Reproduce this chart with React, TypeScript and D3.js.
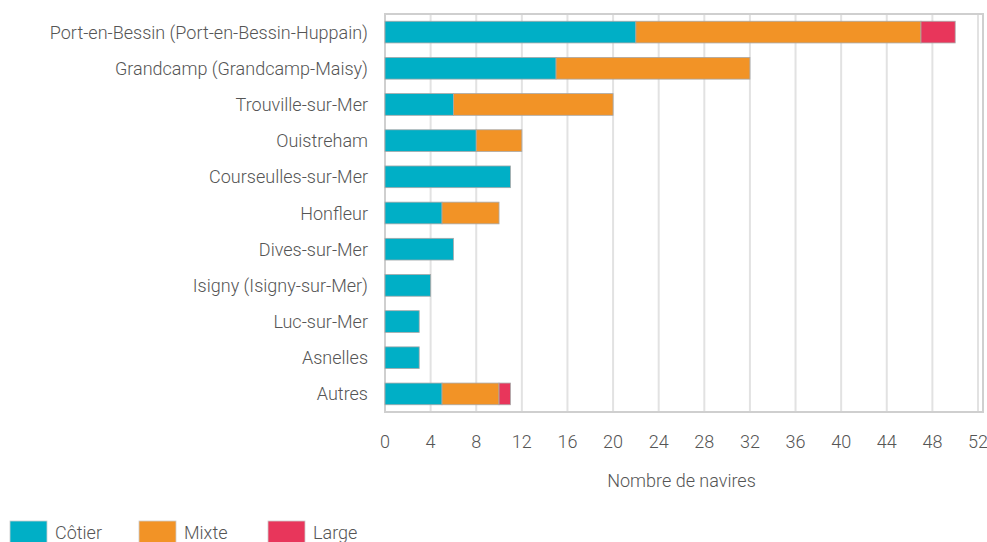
import React from "react";
import * as d3 from "d3";

const ports = [
  "Port-en-Bessin (Port-en-Bessin-Huppain)",
  "Grandcamp (Grandcamp-Maisy)",
  "Trouville-sur-Mer",
  "Ouistreham",
  "Courseulles-sur-Mer",
  "Honfleur",
  "Dives-sur-Mer",
  "Isigny (Isigny-sur-Mer)",
  "Luc-sur-Mer",
  "Asnelles",
  "Autres",
];
const cotier = [22, 15, 6, 8, 11, 5, 6, 4, 3, 3, 5];
const mixte = [25, 17, 14, 4, 0, 5, 0, 0, 0, 0, 5];
const large = [3, 0, 0, 0, 0, 0, 0, 0, 0, 0, 1];
const xTicks = [0, 4, 8, 12, 16, 20, 24, 28, 32, 36, 40, 44, 48, 52];

const keys = ["cotier", "mixte", "large"];
const labels: Record<string, string> = { cotier: "Côtier", mixte: "Mixte", large: "Large" };
const colors: Record<string, string> = { cotier: "#00afc6", mixte: "#f29326", large: "#e8365b" };

const W = 987;
const H = 542;
const m = { top: 14, right: 9, bottom: 130, left: 385 };
const font = "Roboto, 'Liberation Sans', sans-serif";

export default function App() {
  const rows = ports.map((p, i) => ({ port: p, cotier: cotier[i], mixte: mixte[i], large: large[i] }));
  const layers = d3.stack<any>().keys(keys)(rows);

  const x = d3.scaleLinear().domain([0, 52]).range([m.left, W - m.right]);
  const y = d3.scaleBand().domain(ports).range([m.top, H - m.bottom]).paddingInner(0.4).paddingOuter(0.2);
  const bottom = H - m.bottom;

  return (
    <svg width={W} height={H} style={{ position: "absolute", left: 0, top: 0, background: "#fff" }} fontFamily={font} fontWeight={300}>
      {xTicks.map((t) => (
        <line key={t} x1={x(t)} x2={x(t)} y1={m.top} y2={bottom} stroke="#e2e2e2" strokeWidth={2} />
      ))}
      <rect x={m.left} y={m.top} width={x(52) - m.left + 5} height={bottom - m.top} fill="none" stroke="#cfcfcf" strokeWidth={2} />
      {layers.map((layer) => (
        <g key={layer.key} fill={colors[layer.key]}>
          {layer.map((d, i) =>
            d[1] - d[0] > 0 ? (
              <rect
                key={i}
                x={x(d[0])}
                y={y(d.data.port)}
                width={x(d[1]) - x(d[0])}
                height={y.bandwidth()}
                stroke="#a8a8a8"
                strokeWidth={0.8}
              />
            ) : null
          )}
        </g>
      ))}
      {ports.map((p) => (
        <text key={p} x={m.left - 17} y={(y(p) as number) + y.bandwidth() / 2} textAnchor="end" dominantBaseline="central" fontSize={18} fill="#555">
          {p}
        </text>
      ))}
      {xTicks.map((t) => (
        <text key={t} x={x(t)} y={bottom + 29} textAnchor="middle" dominantBaseline="central" fontSize={18} fill="#555">
          {t}
        </text>
      ))}
      <text x={(m.left + x(52)) / 2} y={bottom + 68} textAnchor="middle" dominantBaseline="central" fontSize={18} fill="#555">
        Nombre de navires
      </text>
      {keys.map((k, i) => (
        <g key={k} transform={`translate(${10 + i * 129},521)`}>
          <rect width={37} height={22} fill={colors[k]} stroke="#ccc" strokeWidth={0.8} />
          <text x={45} y={11} dominantBaseline="central" fontSize={18} fill="#555">
            {labels[k]}
          </text>
        </g>
      ))}
    </svg>
  );
}
